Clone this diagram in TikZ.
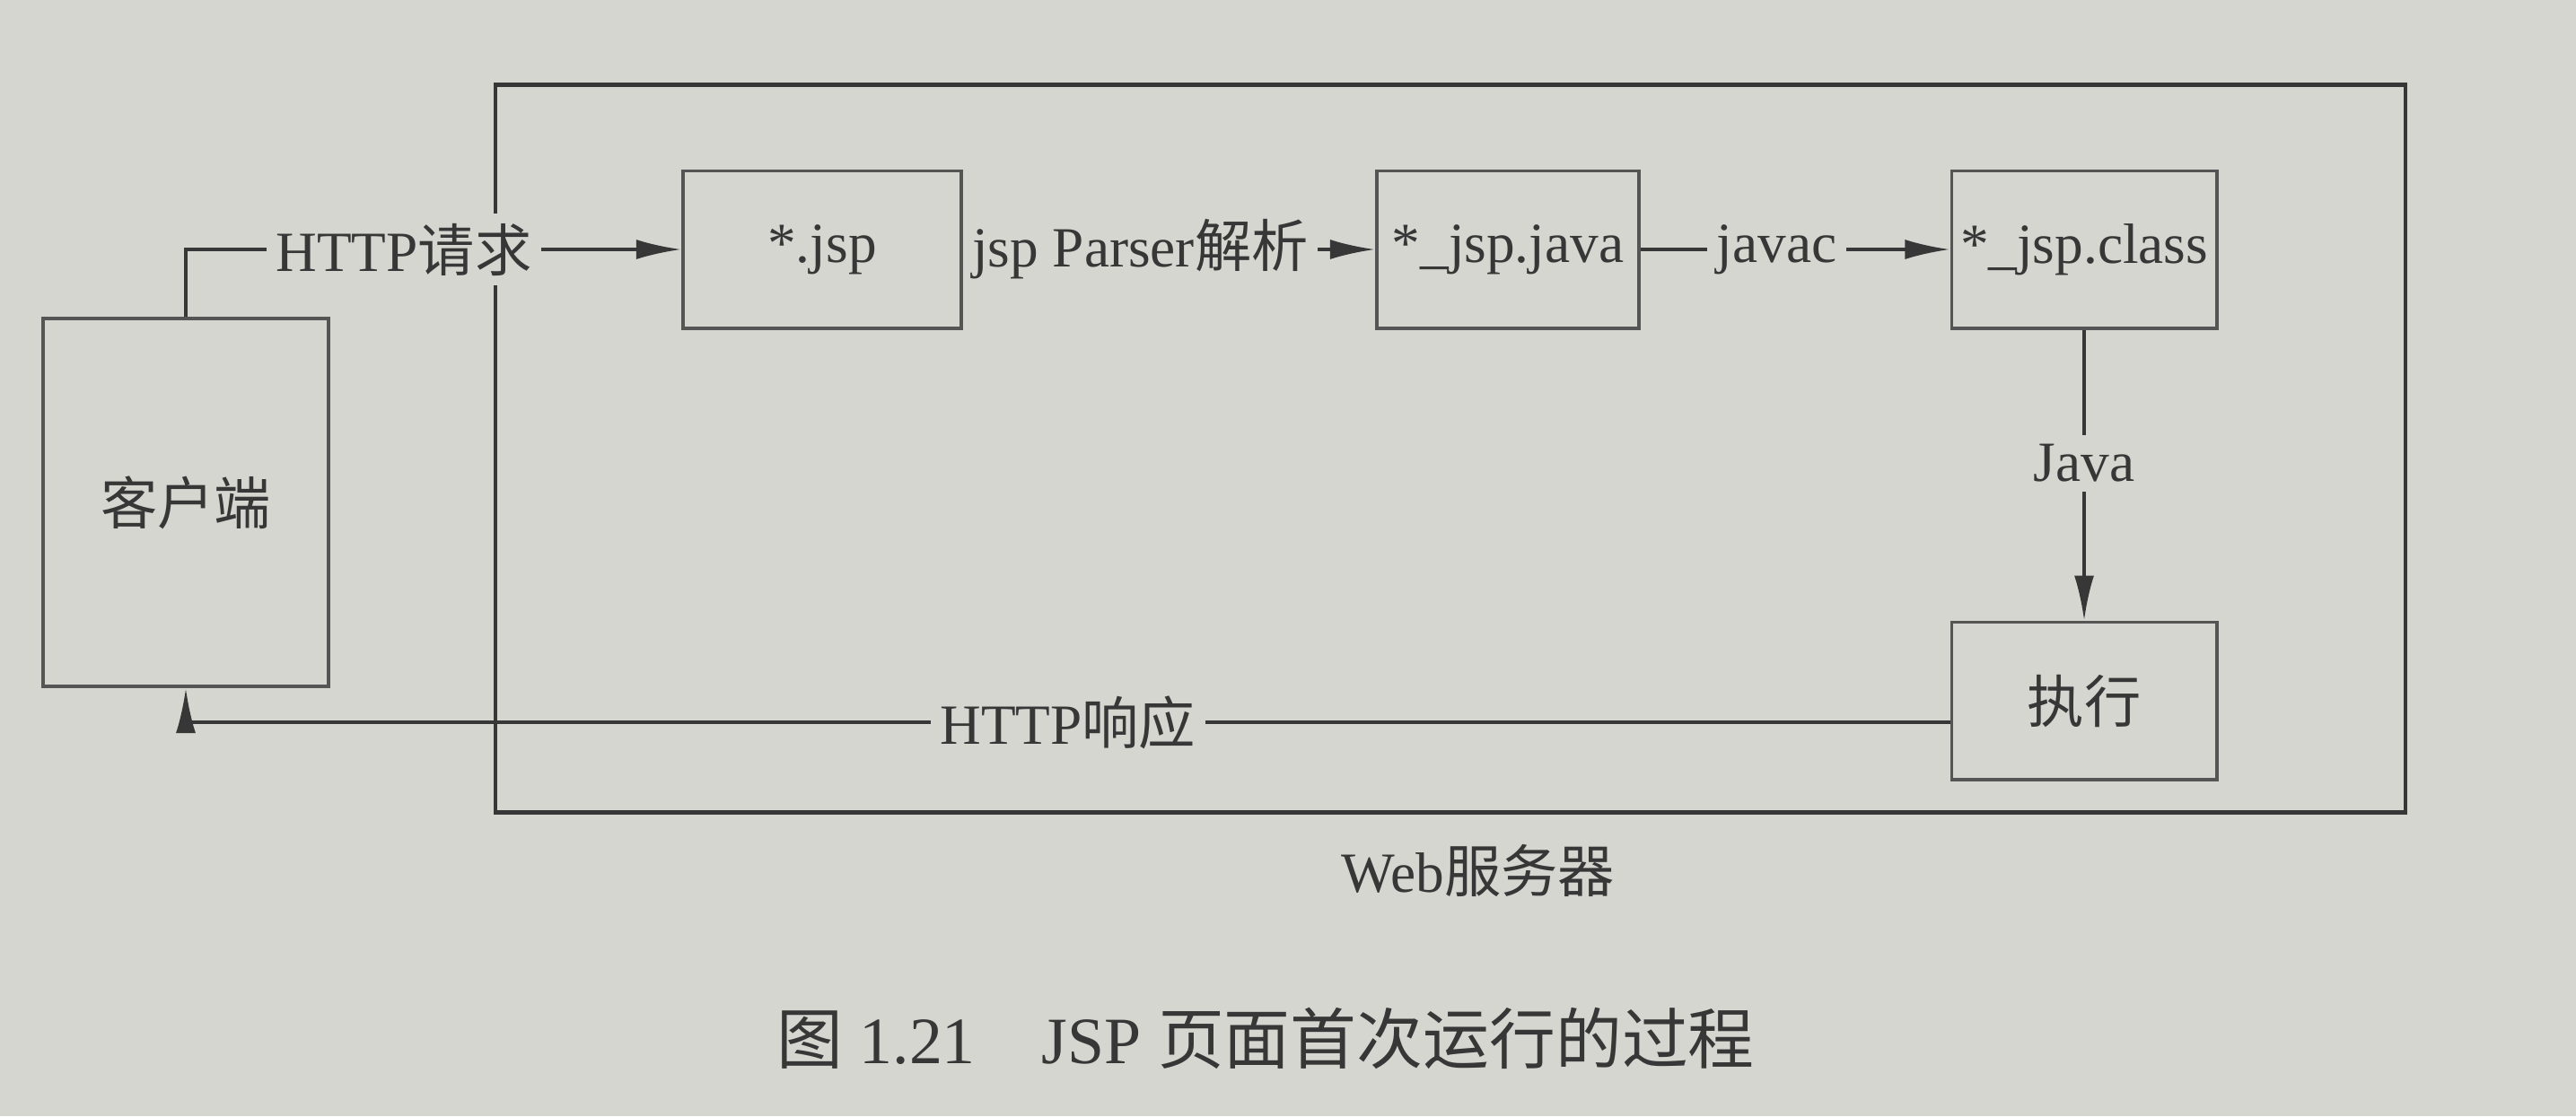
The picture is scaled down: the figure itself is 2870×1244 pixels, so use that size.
\documentclass[tikz,border=0pt]{standalone}
\usepackage{fontspec}
\setmainfont{Liberation Serif}
\newfontfamily\cjk{Noto Sans CJK SC}
\usetikzlibrary{arrows.meta}
\definecolor{paper}{RGB}{214,214,209}
\definecolor{ink}{RGB}{55,55,55}
\begin{document}
\begin{tikzpicture}[x=0.01cm,y=-0.01cm,
  box/.style={draw=ink!85, line width=1.1pt, minimum width=3.0cm, minimum height=1.75cm, inner sep=2pt, font=\fontsize{18}{20}\selectfont, text=ink},
  conn/.style={draw=ink, line width=1pt},
  arr/.style={conn, -{Latex[length=5mm,width=2.2mm]}},
  lab/.style={fill=paper, inner sep=3pt, font=\fontsize{18}{20}\selectfont, text=ink},
  plain/.style={inner sep=2pt, font=\fontsize{18}{20}\selectfont, text=ink}]
\fill[paper] (0,0) rectangle (2870,1244);
\useasboundingbox (0,0) rectangle (2870,1244);

% Web server container
\node[draw=ink, line width=1.3pt, minimum width=21.27cm, minimum height=8.1cm] (web) at (1616,500) {};
\node[plain] (weblab) at (1647,970) {Web{\cjk 服务器}};

% nodes
\node[box, minimum width=3.18cm, minimum height=4.1cm] (client) at (207,560) {\cjk 客户端};
\node[box, minimum width=3.1cm] (jsp) at (916,278) {*.jsp};
\node[box, minimum width=2.92cm] (java) at (1680,278) {*\_jsp.java};
\node[box, minimum width=2.95cm] (class) at (2322,278) {*\_jsp.class};
\node[box, minimum width=2.95cm] (exec) at (2322,781) {\cjk 执行};

% connectors
\draw[arr] (client.north) |- node[lab,pos=0.72]{HTTP{\cjk 请求}} (jsp.west);
\draw[arr] (jsp.east) -- node[lab,pos=0.43]{jsp Parser{\cjk 解析}} (java.west);
\draw[arr] (java.east) -- node[lab,pos=0.44]{javac} (class.west);
\draw[arr] (class.south) -- node[lab,pos=0.46]{Java} (exec.north);
\coordinate (turn) at (207,805);
\draw[arr] (exec.west |- turn) -- node[lab,pos=0.5]{HTTP{\cjk 响应}} (turn) -- (client.south);

% caption
\node[inner sep=2pt, font=\fontsize{21}{23}\selectfont, text=ink] (cap) at (1410,1157) {{\cjk 图} 1.21\quad JSP {\cjk 页面首次运行的过程}};
\end{tikzpicture}
\end{document}
